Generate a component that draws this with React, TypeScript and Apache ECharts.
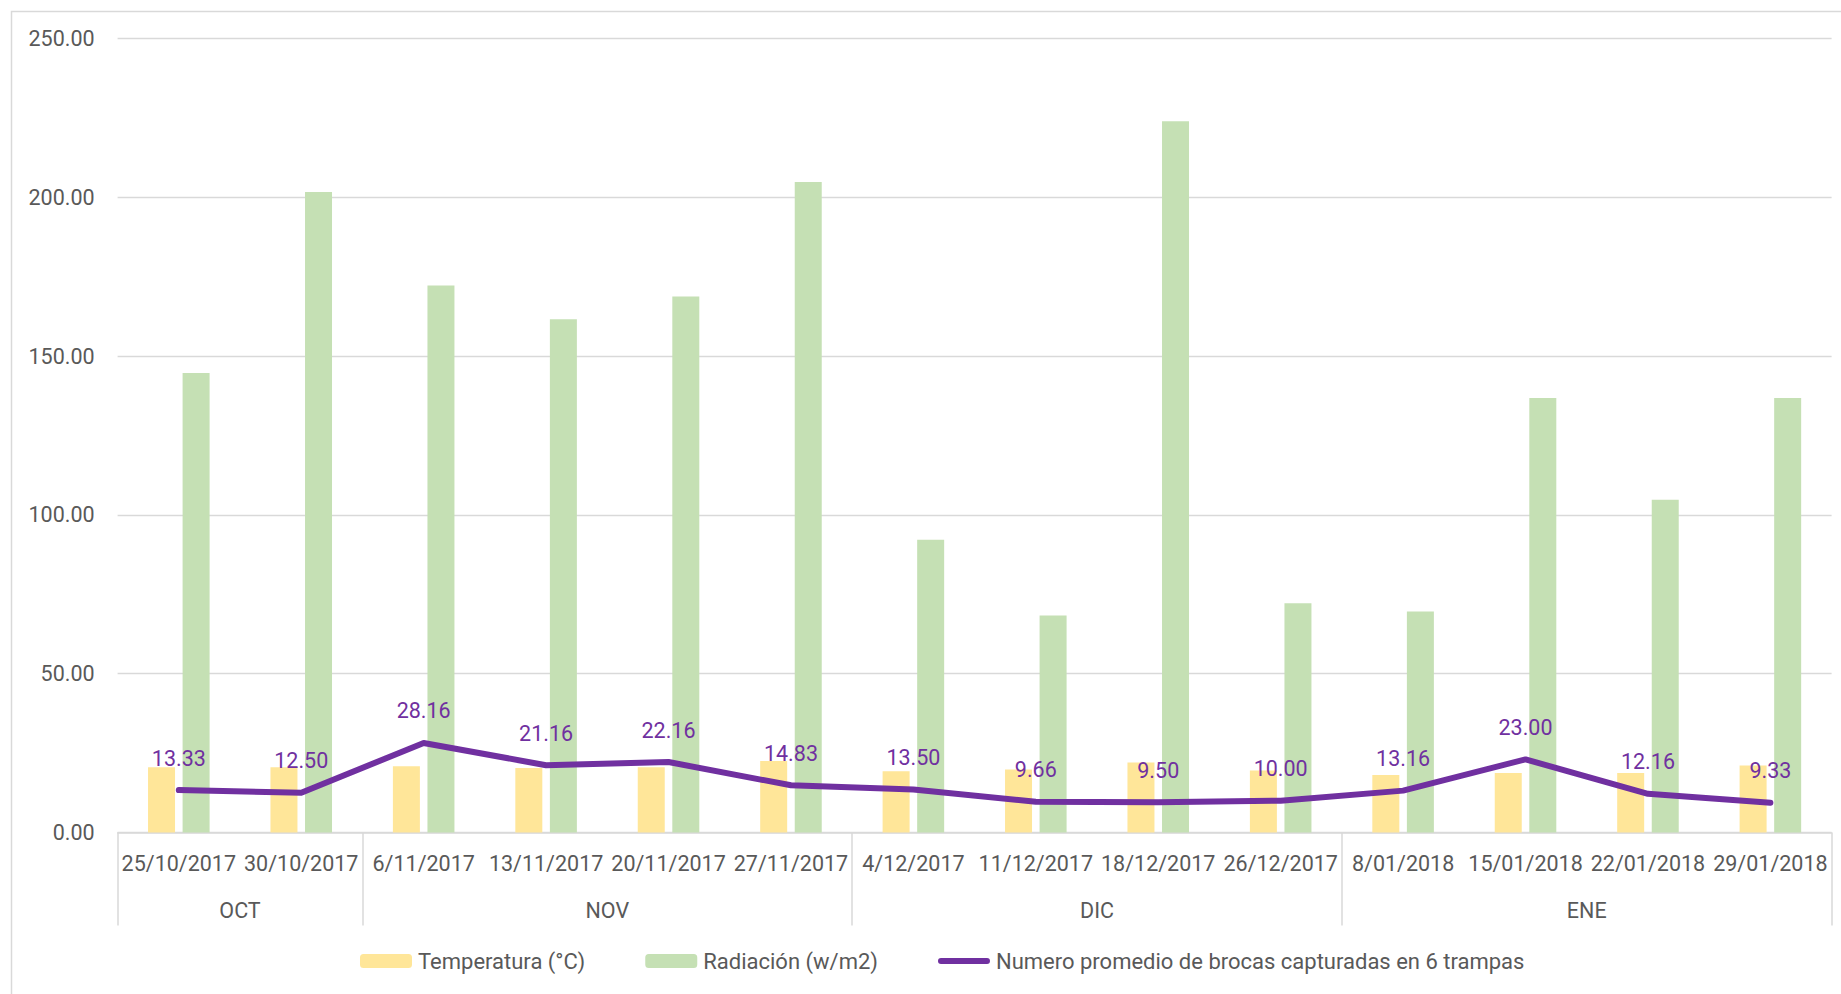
import React, { useEffect, useRef } from "react";
import * as echarts from "echarts";

const dates = [
  "25/10/2017", "30/10/2017", "6/11/2017", "13/11/2017", "20/11/2017", "27/11/2017",
  "4/12/2017", "11/12/2017", "18/12/2017", "26/12/2017", "8/01/2018", "15/01/2018",
  "22/01/2018", "29/01/2018",
];
const months = ["OCT", "NOV", "DIC", "ENE"];
const monthSizes = [2, 4, 4, 4];
const temperatura = [20.5, 20.5, 20.8, 20.3, 20.5, 22.5, 19.3, 19.8, 22.0, 19.5, 18.1, 18.7, 18.7, 21.1];
const radiacion = [144.7, 201.7, 172.3, 161.6, 168.8, 204.9, 92.2, 68.3, 224.0, 72.2, 69.6, 136.8, 104.8, 136.8];
const brocas = [13.33, 12.5, 28.16, 21.16, 22.16, 14.83, 13.5, 9.66, 9.5, 10.0, 13.16, 23.0, 12.16, 9.33];
const yTicks = { min: 0, max: 250, interval: 50 };
const seriesNames = ["Temperatura (°C)", "Radiación (w/m2)", "Numero promedio de brocas capturadas en 6 trampas"];

const FONT = "Roboto";
const GRAY = "#595959";
const GRID = "#D9D9D9";
const PURPLE = "#7030A0";
const FS = 21.5;

export default function App() {
  const ref = useRef<HTMLDivElement>(null);
  useEffect(() => {
    if (!ref.current) return;
    const chart = echarts.init(ref.current, undefined, { renderer: "svg" });

    const boundaries: number[] = [0];
    const centers: number[] = [];
    let acc = 0;
    monthSizes.forEach((s) => {
      centers.push(acc + s / 2);
      acc += s;
      boundaries.push(acc);
    });

    chart.setOption({
      animation: false,
      textStyle: { fontFamily: FONT },
      graphic: [
        {
          type: "rect",
          shape: { x: 11.5, y: 11.5, width: 1850, height: 1000 },
          style: { fill: "none", stroke: GRID, lineWidth: 1.5 },
          silent: true,
        },
      ],
      grid: { left: 117.6, right: 9.4, top: 38.7, bottom: 161.6, containLabel: false },
      legend: {
        left: 360,
        top: 950,
        padding: 0,
        itemWidth: 52,
        itemHeight: 14,
        itemGap: 60,
        textStyle: { fontFamily: FONT, fontSize: 22, color: GRAY, padding: [0, 0, 0, 1] },
        data: [
          { name: seriesNames[0] },
          { name: seriesNames[1] },
          {
            name: seriesNames[2],
            icon: "path://M3,0 L49,0 A3,3 0 0 1 49,6 L3,6 A3,3 0 0 1 3,0 Z",
          },
        ],
      },
      xAxis: [
        {
          type: "category",
          data: dates,
          position: "bottom",
          axisLine: { show: true, lineStyle: { color: GRID, width: 1.5 } },
          axisTick: { show: false },
          axisLabel: { interval: 0, margin: 20, fontFamily: FONT, fontSize: FS, color: GRAY },
          splitLine: { show: false },
        },
        {
          type: "value",
          min: 0,
          max: dates.length,
          position: "bottom",
          axisLine: { show: false },
          splitLine: { show: false },
          axisTick: {
            show: true,
            length: 93,
            customValues: boundaries,
            lineStyle: { color: GRID, width: 1.5 },
          },
          axisLabel: {
            show: true,
            margin: 67,
            customValues: centers,
            fontFamily: FONT,
            fontSize: FS,
            color: GRAY,
            formatter: (v: number) => {
              const i = centers.indexOf(v);
              return i >= 0 ? months[i] : "";
            },
          },
        },
      ],
      yAxis: {
        type: "value",
        min: yTicks.min,
        max: yTicks.max,
        interval: yTicks.interval,
        axisLine: { show: false },
        axisTick: { show: false },
        axisLabel: {
          margin: 23,
          fontFamily: FONT,
          fontSize: FS,
          color: GRAY,
          formatter: (v: number) => v.toFixed(2),
        },
        splitLine: { lineStyle: { color: GRID, width: 1.3 } },
      },
      series: [
        {
          name: seriesNames[0],
          type: "bar",
          data: temperatura,
          barWidth: 27,
          barGap: "28%",
          itemStyle: { color: "#FFE699" },
        },
        {
          name: seriesNames[1],
          type: "bar",
          data: radiacion,
          barWidth: 27,
          barGap: "28%",
          itemStyle: { color: "#C5E0B4" },
        },
        {
          name: seriesNames[2],
          type: "line",
          data: brocas,
          z: 5,
          symbol: "circle",
          symbolSize: 2,
          showSymbol: true,
          itemStyle: { color: PURPLE },
          lineStyle: { color: PURPLE, width: 6, cap: "round", join: "round" },
          label: {
            show: true,
            position: "top",
            distance: 20,
            fontFamily: FONT,
            fontSize: FS,
            color: PURPLE,
            formatter: (p: any) => Number(p.value).toFixed(2),
          },
        },
      ],
    });
    return () => chart.dispose();
  }, []);
  return (
    <div
      ref={ref}
      style={{ position: "absolute", left: 0, top: 0, width: 1841, height: 994, background: "#fff" }}
    />
  );
}
